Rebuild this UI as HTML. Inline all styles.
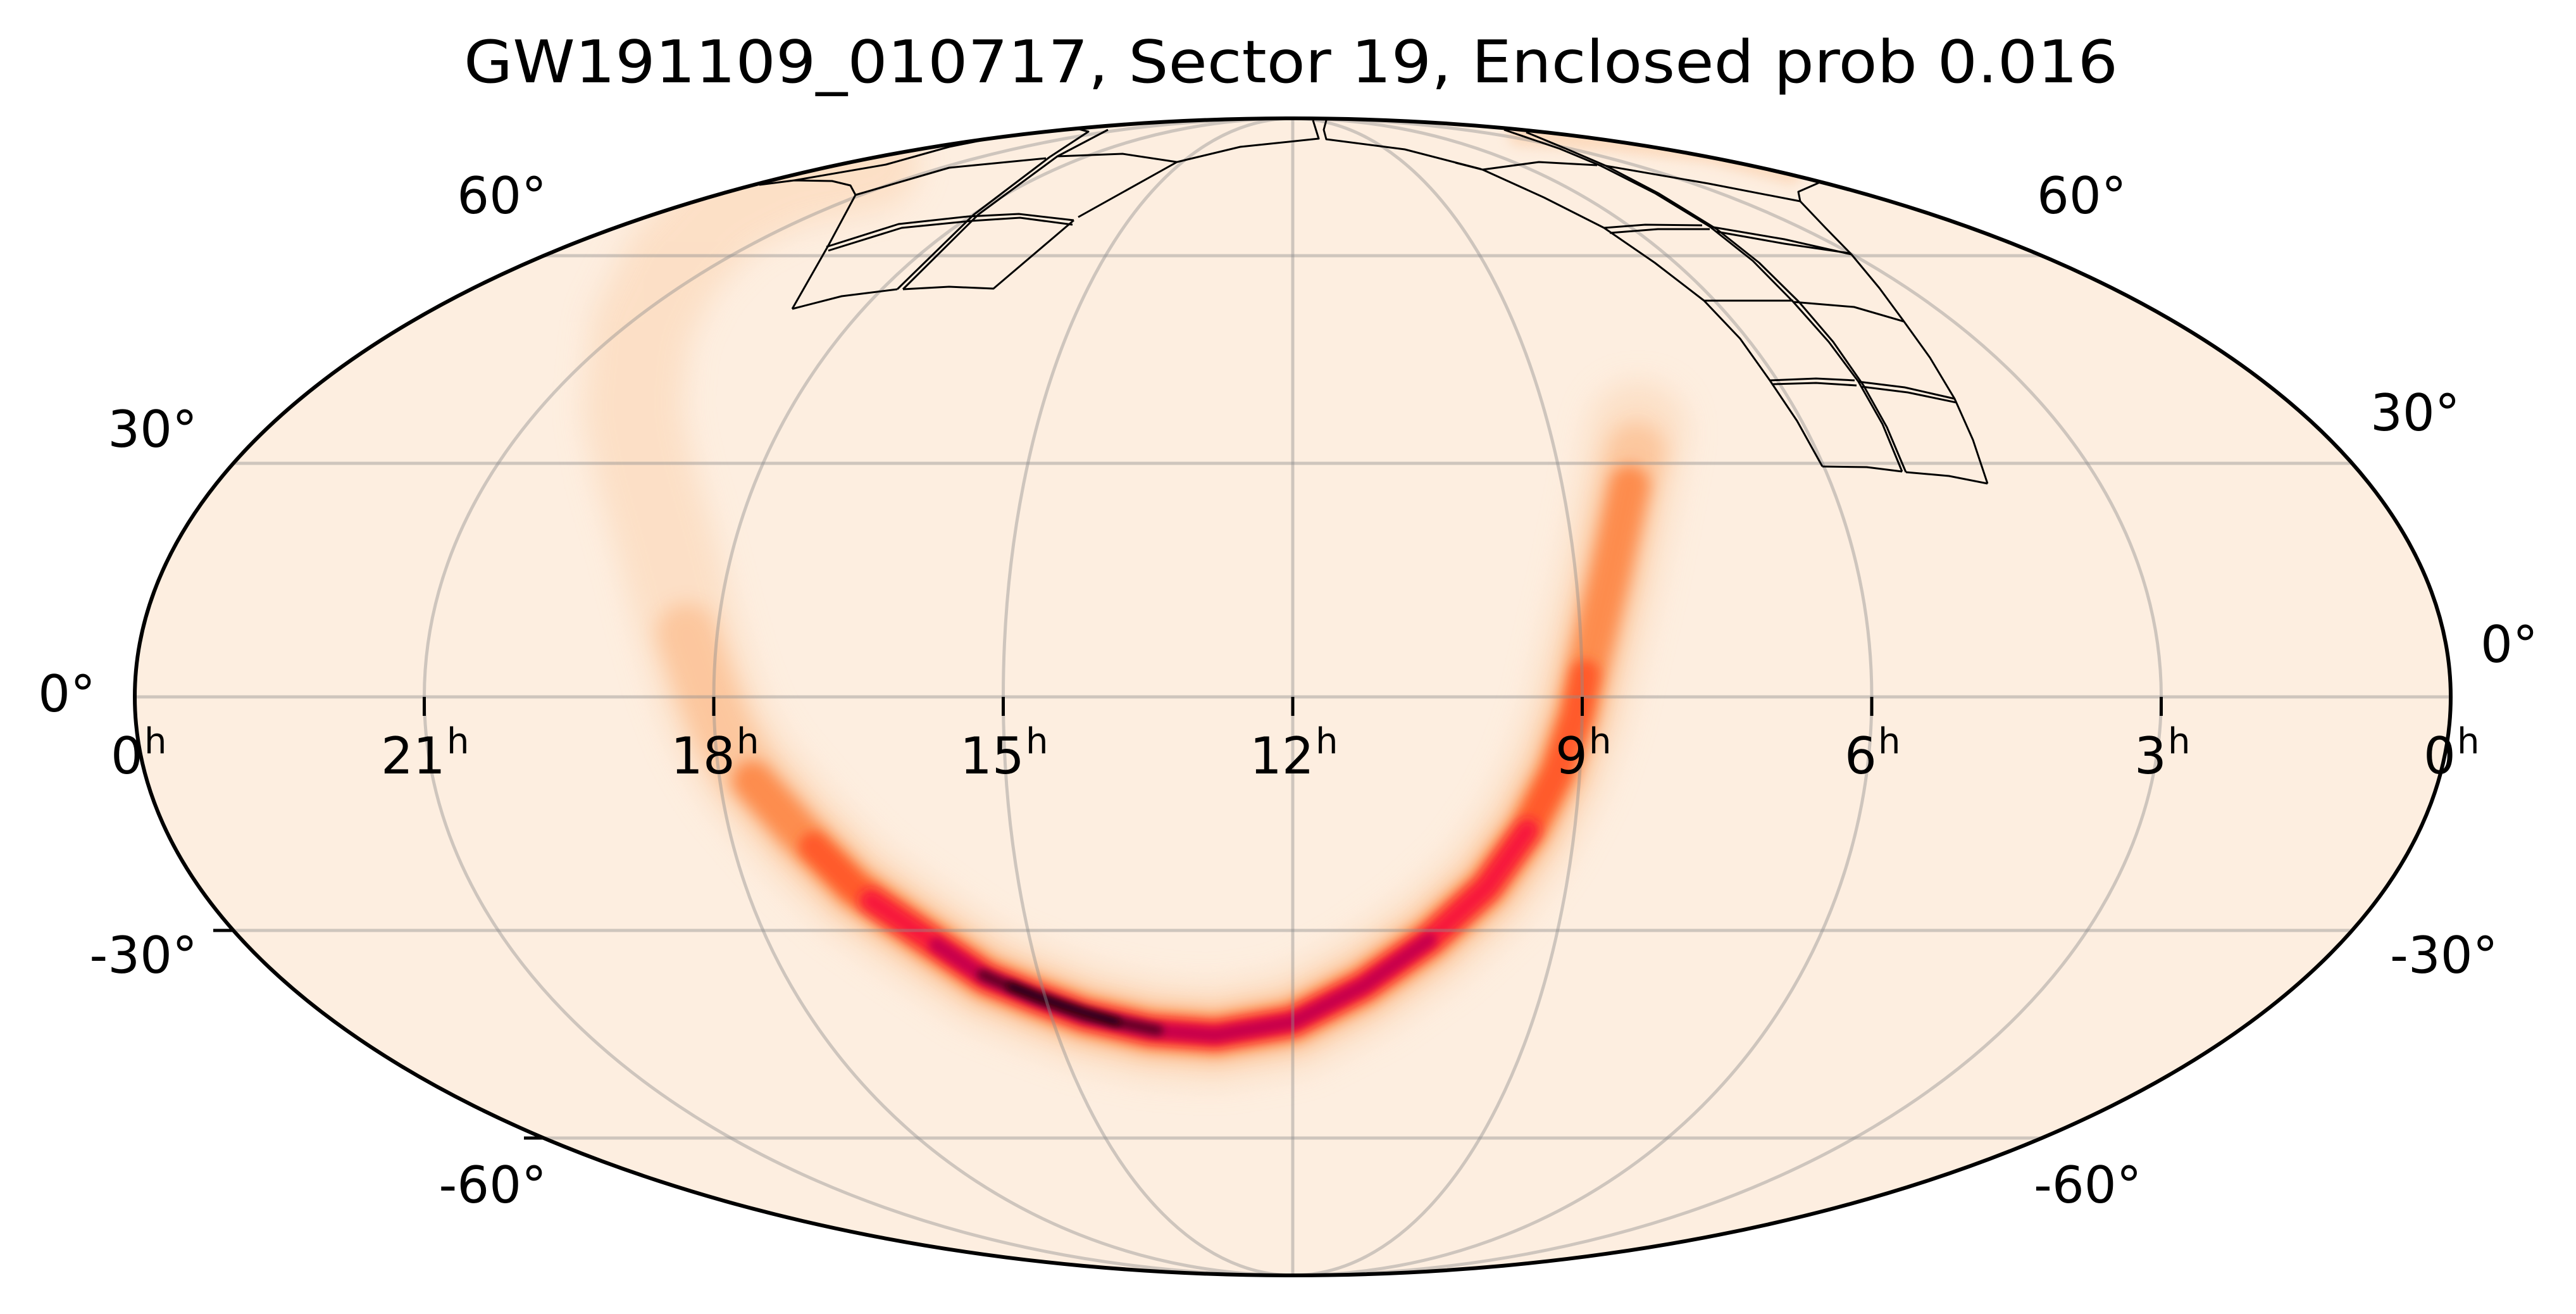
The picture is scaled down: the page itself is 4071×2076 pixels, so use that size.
<!DOCTYPE html>
<html><head><meta charset="utf-8"><style>
html,body{margin:0;padding:0;background:#fff;}
svg{display:block;}
text{font-family:"DejaVu Sans","Liberation Sans",sans-serif;fill:#000;}
</style></head><body>
<svg width="4071" height="2076" viewBox="0 0 4071 2076" xmlns="http://www.w3.org/2000/svg">
<defs>
<clipPath id="clip"><ellipse cx="2043" cy="1101" rx="1830" ry="914"/></clipPath>
<filter id="b8" filterUnits="userSpaceOnUse" x="-100" y="-100" width="1800" height="1100"><feGaussianBlur stdDeviation="9"/></filter>
<filter id="b5" filterUnits="userSpaceOnUse" x="-100" y="-100" width="1800" height="1100"><feGaussianBlur stdDeviation="6"/></filter>
<filter id="b4" filterUnits="userSpaceOnUse" x="-100" y="-100" width="1800" height="1100"><feGaussianBlur stdDeviation="4.5"/></filter>
<filter id="b3" filterUnits="userSpaceOnUse" x="-100" y="-100" width="1800" height="1100"><feGaussianBlur stdDeviation="3.5"/></filter>
<filter id="b2" filterUnits="userSpaceOnUse" x="-100" y="-100" width="1800" height="1100"><feGaussianBlur stdDeviation="2.5"/></filter>
</defs>
<text x="2040" y="130" font-size="93" text-anchor="middle" textLength="2614" lengthAdjust="spacingAndGlyphs">GW191109_010717, Sector 19, Enclosed prob 0.016</text>
<ellipse cx="2043" cy="1101" rx="1830" ry="914" fill="#fdeee0"/>
<g clip-path="url(#clip)">
<g transform="scale(2.596)" fill="none" stroke-linecap="round" stroke-linejoin="round">
<path filter="url(#b3)" stroke="#fcd6b6" stroke-width="14" opacity="0.8" d="M925,82 L980,85 L1040,92 L1090,105"/>
<path filter="url(#b8)" stroke="#fcdcc0" stroke-width="60" opacity="0.8" d="M997,262 L990,300 L980,350 L968,400 L960,435 L948,470 L930,505 L905,540 L870,572 L830,600 L787,622 L740,630 L700,627 L660,618 L630,607 L600,595 L560,568 L520,540 L485,505 L455,470 L440,445 L430,420 L418,380 L405,330 L392,285 L385,250 L390,200 L410,160 L440,128 L480,108 L530,98"/>
<path filter="url(#b5)" stroke="#fcc49a" stroke-width="36" opacity="0.9" d="M996,275 L990,300 L980,350 L968,400 L960,435 L948,470 L930,505 L905,540 L870,572 L830,600 L787,622 L740,630 L700,627 L660,618 L630,607 L600,595 L560,568 L520,540 L485,505 L455,470 L440,445 L430,420 L418,385"/>
<path filter="url(#b4)" stroke="#fd8c4e" stroke-width="24" d="M992,295 L980,350 L968,400 L960,435 L948,470 L930,505 L905,540 L870,572 L830,600 L787,622 L740,630 L700,627 L660,618 L630,607 L600,595 L560,568 L520,540 L485,505 L458,475"/>
<path filter="url(#b3)" stroke="#ff5a2c" stroke-width="17" d="M965,410 L960,435 L948,470 L930,505 L905,540 L870,572 L830,600 L787,622 L740,630 L700,627 L660,618 L630,607 L600,595 L560,568 L520,540 L495,515"/>
<path filter="url(#b3)" stroke="#f7143e" stroke-width="13" d="M930,505 L905,540 L870,572 L830,600 L787,622 L740,630 L700,627 L660,618 L630,607 L600,595 L560,568 L530,548"/>
<path filter="url(#b2)" stroke="#c8004c" stroke-width="9" d="M870,572 L830,600 L787,622 L740,630 L700,627 L660,618 L630,607 L600,595 L570,575"/>
<path filter="url(#b2)" stroke="#5a0020" stroke-width="6" d="M705,627 L660,618 L630,607 L598,593"/>
<path filter="url(#b2)" stroke="#14000a" stroke-width="4" d="M680,622 L645,611 L615,600"/>
</g>
<g fill="none" stroke="rgba(140,140,140,0.42)" stroke-width="5">
<line x1="0" y1="1101" x2="4071" y2="1101"/>
<line x1="369" y1="732" x2="3717" y2="732"/>
<line x1="369" y1="1470" x2="3717" y2="1470"/>
<line x1="859" y1="404" x2="3227" y2="404"/>
<line x1="859" y1="1798" x2="3227" y2="1798"/>
<line x1="2043" y1="187" x2="2043" y2="2015"/>
<ellipse cx="2043" cy="1101" rx="457.5" ry="914"/>
<ellipse cx="2043" cy="1101" rx="915" ry="914"/>
<ellipse cx="2043" cy="1101" rx="1372.5" ry="914"/>
</g>
<g fill="none" stroke="#000" stroke-width="3" stroke-linejoin="round">
<polyline points="1252,488 1309,388 1352,308 1344,293 1315,286 1255,285 1200,292"/>
<polyline points="1252,488 1330,468 1418,457"/>
<polyline points="1427,457 1500,453 1570,456 1697,348"/>
<polyline points="1704,343 1860,256 1960,232 2084,219 2075,190"/>
<polyline points="2096,190 2092,205 2096,220 2220,236 2340,267"/>
<polyline points="1418,457 1539,339 1659,248 1720,208 1705,204 1600,212 1500,232 1400,260 1255,285"/>
<polyline points="1427,457 1546,339 1671,247 1751,205"/>
<polyline points="1306,390 1420,354 1530,342 1610,338 1697,348"/>
<polyline points="1309,396 1425,360 1535,349 1612,344 1695,355"/>
<polyline points="1352,308 1500,265 1653,250"/>
<polyline points="1671,247 1774,243 1860,256"/>
<polyline points="2377,205 2465,235 2530,262 2615,305 2702,358 2770,412 2834,477 2890,540 2937,603 2975,670 3006,745"/>
<polyline points="2412,209 2475,235 2538,262 2622,306 2713,362 2780,415 2843,477 2897,540 2945,609 2982,675 3012,746"/>
<polyline points="2300,257 2343,268 2440,312 2535,360 2615,415 2693,475 2750,535 2797,601 2840,665 2880,737"/>
<polyline points="2343,268 2432,256 2524,261"/>
<polyline points="2535,360 2600,355 2690,356"/>
<polyline points="2544,368 2620,362 2702,362"/>
<polyline points="2538,262 2700,290 2845,318 2842,303 2874,289"/>
<polyline points="2845,318 2885,360 2926,402 2970,455 3009,508 3050,565 3089,630 3118,695 3141,764"/>
<polyline points="2702,358 2820,378 2926,402"/>
<polyline points="2713,366 2820,385 2923,400"/>
<polyline points="2834,477 2930,485 3009,508"/>
<polyline points="2693,475 2834,475"/>
<polyline points="2797,601 2870,598 2931,601"/>
<polyline points="2802,607 2870,605 2934,609"/>
<polyline points="2937,603 3010,612 3089,630"/>
<polyline points="2943,611 3015,620 3092,636"/>
<polyline points="2880,737 2950,738 3006,745"/>
<polyline points="3012,746 3080,752 3141,764"/>
</g>
</g>
<ellipse cx="2043" cy="1101" rx="1830" ry="914" fill="none" stroke="#000" stroke-width="6"/>
<g stroke="#000" stroke-width="5">
<line x1="670.5" y1="1101" x2="670.5" y2="1131"/>
<line x1="1128" y1="1101" x2="1128" y2="1131"/>
<line x1="1585.5" y1="1101" x2="1585.5" y2="1131"/>
<line x1="2043" y1="1101" x2="2043" y2="1131"/>
<line x1="2500.5" y1="1101" x2="2500.5" y2="1131"/>
<line x1="2958" y1="1101" x2="2958" y2="1131"/>
<line x1="3415.5" y1="1101" x2="3415.5" y2="1131"/>
<line x1="337" y1="1470" x2="369" y2="1470"/>
<line x1="828" y1="1798" x2="859" y2="1798"/>
</g>
<g font-size="80">
<text x="175" y="1222">0</text>
<text x="602" y="1222">21</text>
<text x="1060" y="1222">18</text>
<text x="1517" y="1222">15</text>
<text x="1975" y="1222">12</text>
<text x="2458" y="1222">9</text>
<text x="2915" y="1222">6</text>
<text x="3373" y="1222">3</text>
<text x="3830" y="1222">0</text>
</g>
<g font-size="56">
<text x="228" y="1190">h</text>
<text x="706" y="1190">h</text>
<text x="1164" y="1190">h</text>
<text x="1621" y="1190">h</text>
<text x="2079" y="1190">h</text>
<text x="2511" y="1190">h</text>
<text x="2968" y="1190">h</text>
<text x="3426" y="1190">h</text>
<text x="3883" y="1190">h</text>
</g>
<g font-size="80" text-anchor="end">
<text x="151" y="1124">0°</text>
<text x="312" y="706">30°</text>
<text x="864" y="337">60°</text>
<text x="312" y="1537">-30°</text>
<text x="864" y="1900">-60°</text>
</g>
<g font-size="80" text-anchor="start">
<text x="3920" y="1046">0°</text>
<text x="3746" y="680">30°</text>
<text x="3219" y="337">60°</text>
<text x="3777" y="1537">-30°</text>
<text x="3214" y="1900">-60°</text>
</g>
</svg>
</body></html>
